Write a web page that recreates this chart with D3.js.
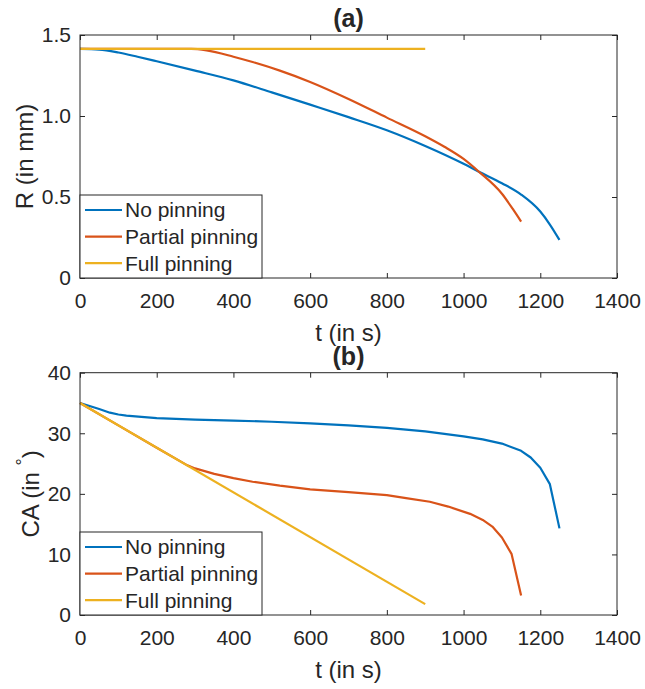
<!DOCTYPE html>
<html>
<head>
<meta charset="utf-8">
<script src="https://cdn.jsdelivr.net/npm/d3@7"></script>
<style>
  body { margin: 0; background: #fff; }
  text { font-family: "Liberation Sans", Arial, Helvetica, sans-serif; fill: #262626; }
</style>
</head>
<body>
<div id="chart"></div>
<script>
// series names + colours (matlab defaults)
var seriesNames = ["No pinning", "Partial pinning", "Full pinning"];
var seriesColors = ["#0072BD", "#D95319", "#EDB120"];

var xTicks = [0, 200, 400, 600, 800, 1000, 1200, 1400];
var yTicksA = [0, 0.5, 1.0, 1.5];
var yTickLabelsA = ["0", "0.5", "1.0", "1.5"];
var yTicksB = [0, 10, 20, 30, 40];
var yTickLabelsB = ["0", "10", "20", "30", "40"];

// (a) radius R in mm vs time
var tNoA = [0, 50, 100, 150, 200, 300, 400, 500, 600, 700, 800, 900, 1000, 1040, 1100, 1150, 1200, 1225, 1250];
var rNoA = [1.414, 1.41, 1.392, 1.366, 1.338, 1.28, 1.22, 1.146, 1.07, 0.993, 0.912, 0.815, 0.705, 0.656, 0.585, 0.515, 0.41, 0.33, 0.235];
var tPartA = [0, 290, 330, 400, 450, 521, 600, 700, 800, 900, 950, 1000, 1040, 1100, 1130, 1150];
var rPartA = [1.414, 1.414, 1.405, 1.366, 1.333, 1.28, 1.21, 1.105, 0.99, 0.875, 0.81, 0.735, 0.656, 0.52, 0.42, 0.348];
var tFullA = [0, 900];
var rFullA = [1.414, 1.414];

// (b) contact angle in degrees vs time
var tNoB = [0, 25, 50, 78, 100, 121, 160, 200, 300, 400, 500, 600, 700, 800, 900, 1000, 1050, 1100, 1150, 1175, 1200, 1225, 1250];
var caNoB = [35, 34.5, 34.0, 33.4, 33.1, 32.9, 32.7, 32.5, 32.25, 32.1, 31.9, 31.65, 31.3, 30.9, 30.3, 29.5, 29.0, 28.3, 27.1, 26.0, 24.3, 21.6, 14.3];
var tPartB = [0, 100, 200, 280, 300, 350, 400, 450, 521, 600, 700, 800, 850, 912, 960, 1017, 1050, 1075, 1100, 1125, 1150];
var caPartB = [35, 31.3, 27.6, 24.7, 24.2, 23.3, 22.6, 22.0, 21.35, 20.75, 20.3, 19.8, 19.3, 18.7, 17.9, 16.7, 15.7, 14.6, 12.8, 10.1, 3.2];
var tFullB = [0, 900];
var caFullB = [35, 1.8];

var width = 645, height = 689;
var plotLeft = 80, plotRight = 617;
var axisColor = "#262626";

const svg = d3
  .select("#chart")
  .append("svg")
  .attr("width", width)
  .attr("height", height);

function zipSeries(ts, vs) {
  return ts.map((t, i) => [t, vs[i]]);
}

function drawPanel(opts) {
  const xScale = d3.scaleLinear().domain([0, 1400]).range([plotLeft, plotRight]);
  const yScale = d3.scaleLinear().domain(opts.yDomain).range([opts.bottom, opts.top]);

  const g = svg.append("g");

  // lines
  const line = d3
    .line()
    .curve(opts.curve)
    .x((d) => xScale(d[0]))
    .y((d) => yScale(d[1]));

  opts.series.forEach((s, i) => {
    g.append("path")
      .datum(s)
      .attr("fill", "none")
      .attr("stroke", seriesColors[i])
      .attr("stroke-width", 2.2)
      .attr("stroke-linejoin", "round")
      .attr("d", line);
  });

  // axes, ticks pointing inward on all four sides
  g.append("g")
    .attr("transform", `translate(0,${opts.bottom})`)
    .call(
      d3
        .axisBottom(xScale)
        .tickValues(xTicks)
        .tickFormat(d3.format("d"))
        .tickSize(-5)
        .tickSizeOuter(0)
        .tickPadding(15)
    );
  g.append("g")
    .attr("transform", `translate(${plotLeft},0)`)
    .call(
      d3
        .axisLeft(yScale)
        .tickValues(opts.yTicks)
        .tickFormat((d, i) => opts.yTickLabels[i])
        .tickSize(-5)
        .tickSizeOuter(0)
        .tickPadding(9)
    );
  g.append("g")
    .attr("transform", `translate(0,${opts.top})`)
    .call(d3.axisTop(xScale).tickValues(xTicks).tickSize(-5).tickSizeOuter(0).tickFormat(""));
  g.append("g")
    .attr("transform", `translate(${plotRight},0)`)
    .call(d3.axisRight(yScale).tickValues(opts.yTicks).tickSize(-5).tickSizeOuter(0).tickFormat(""));

  g.selectAll(".domain").remove();
  g.selectAll(".tick line").attr("stroke", axisColor);
  g.selectAll(".tick text")
    .style("font-size", "21px")
    .style("font-family", '"Liberation Sans", Arial, sans-serif')
    .attr("fill", axisColor);

  // box
  g.append("rect")
    .attr("x", plotLeft)
    .attr("y", opts.top)
    .attr("width", plotRight - plotLeft)
    .attr("height", opts.bottom - opts.top)
    .attr("fill", "none")
    .attr("stroke", axisColor)
    .attr("stroke-width", 1);

  // legend in the lower left corner
  const legTop = opts.bottom - 83;
  g.append("rect")
    .attr("x", plotLeft)
    .attr("y", legTop)
    .attr("width", 182)
    .attr("height", 83)
    .attr("fill", "#fff")
    .attr("stroke", axisColor)
    .attr("stroke-width", 1);

  const items = g
    .selectAll(".legend-item")
    .data(seriesNames)
    .enter()
    .append("g")
    .attr("transform", (d, i) => `translate(0, ${legTop + 15 + i * 26.6})`);
  items
    .append("line")
    .attr("x1", 85)
    .attr("x2", 122)
    .attr("stroke", (d, i) => seriesColors[i])
    .attr("stroke-width", 2.2);
  items
    .append("text")
    .attr("x", 125)
    .attr("dy", "0.35em")
    .style("font-size", "21px")
    .text((d) => d);

  // labels + title
  const midX = (plotLeft + plotRight) / 2;
  g.append("text")
    .attr("x", midX)
    .attr("y", opts.bottom + 63)
    .style("text-anchor", "middle")
    .style("font-size", "24px")
    .text("t (in s)");

  const yLab = g
    .append("text")
    .attr("transform", `translate(${opts.yLabelX},${(opts.top + opts.bottom) / 2}) rotate(-90)`)
    .style("text-anchor", "middle")
    .style("font-size", "24px");
  opts.yLabel(yLab);

  g.append("text")
    .attr("x", midX)
    .attr("y", opts.top - 8)
    .style("text-anchor", "middle")
    .style("font-size", "25px")
    .style("font-weight", "bold")
    .attr("fill", "#000")
    .text(opts.title);
}

drawPanel({
  top: 35,
  bottom: 278,
  yDomain: [0, 1.5],
  yTicks: yTicksA,
  yTickLabels: yTickLabelsA,
  yLabelX: 33,
  title: "(a)",
  curve: d3.curveMonotoneX,
  yLabel: (t) => t.text("R (in mm)"),
  series: [zipSeries(tNoA, rNoA), zipSeries(tPartA, rPartA), zipSeries(tFullA, rFullA)]
});

drawPanel({
  top: 372.7,
  bottom: 615,
  yDomain: [0, 40],
  yTicks: yTicksB,
  yTickLabels: yTickLabelsB,
  yLabelX: 39,
  title: "(b)",
  curve: d3.curveLinear,
  yLabel: (t) => {
    t.append("tspan").text("CA (in ");
    t.append("tspan").attr("dy", -10).style("font-size", "18px").text("\u00B0");
    t.append("tspan").attr("dy", 10).text(")");
  },
  series: [zipSeries(tNoB, caNoB), zipSeries(tPartB, caPartB), zipSeries(tFullB, caFullB)]
});
</script>
</body>
</html>
